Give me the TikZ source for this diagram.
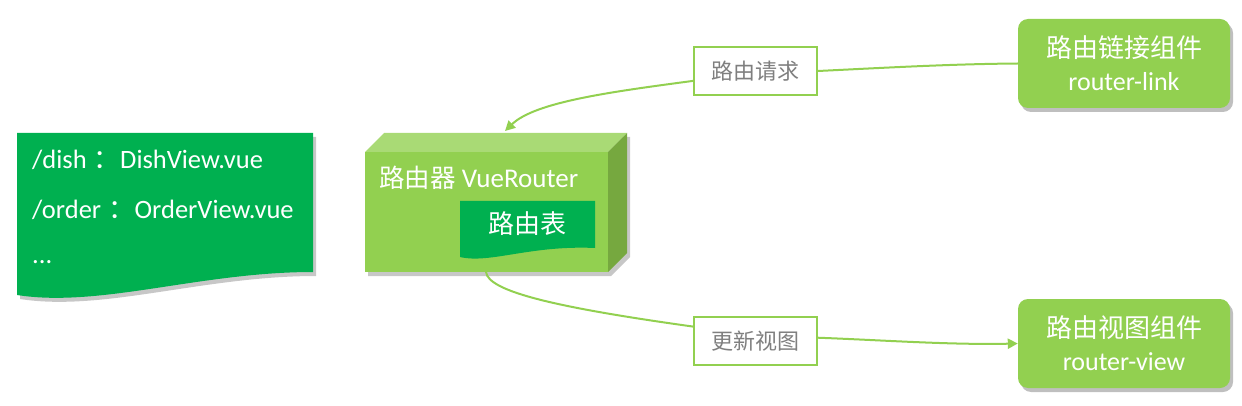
\documentclass[tikz,border=0pt]{standalone}
\usepackage{fontspec}
\setmainfont{Carlito}
\newfontfamily\cjk{Noto Sans CJK SC}
\usetikzlibrary{arrows.meta,shadows}
\definecolor{lg}{HTML}{92D050}
\definecolor{dg}{HTML}{00B050}
\definecolor{topg}{HTML}{A9DA75}
\definecolor{sideg}{HTML}{76A83F}
\definecolor{labgray}{HTML}{7F7F7F}
\tikzset{
  shadowfill/.style={fill=black,opacity=0.22},
  compbox/.style={fill=lg,rounded corners=10pt,minimum width=212pt,minimum height=89pt,
    text=white,align=center,font=\fontsize{26}{33}\selectfont,
    general shadow={fill=black,opacity=0.25,shadow xshift=3pt,shadow yshift=-4pt}},
  labelbox/.style={draw=lg,line width=2pt,fill=white,minimum width=123pt,minimum height=48pt,
    text=labgray,font=\cjk\fontsize{22}{24}\selectfont},
  conn/.style={draw=lg,line width=2pt},
  doctext/.style={anchor=west,text=white,font=\fontsize{26.5}{28}\selectfont,inner sep=0pt},
}
\begin{document}
\begin{tikzpicture}[x=1pt,y=-1pt]
\useasboundingbox (0,0) rectangle (1242,406);
% document shape (left)
\begin{scope}[shift={(3,4)}]
\fill[shadowfill] (17,133) -- (313,133) -- (313,272) .. controls (200,272) and (100,308) .. (17,295) -- cycle;
\end{scope}
\fill[dg] (17,133) -- (313,133) -- (313,272) .. controls (200,272) and (100,308) .. (17,295) -- cycle;
\node[doctext] (d1) at (32,160) {/dish\hspace{7pt}{\cjk ：}DishView.vue};
\node[doctext] (d2) at (32,210) {/order\hspace{7pt}{\cjk ：}OrderView.vue};
\node[doctext] (d3) at (32,262) {...};
% cube
\begin{scope}[shift={(3,4)}]
\fill[shadowfill] (365,152) -- (384,133) -- (627,133) -- (627,253) -- (608,272) -- (365,272) -- cycle;
\end{scope}
\fill[lg] (365,152) rectangle (608,272);
\fill[topg] (365,152) -- (384,133) -- (627,133) -- (608,152) -- cycle;
\fill[sideg] (608,152) -- (627,133) -- (627,253) -- (608,272) -- cycle;
\node[inner sep=0pt,minimum width=243pt,minimum height=120pt] (cube) at (486.5,212) {};
\coordinate (cubetop) at (505,131);
\coordinate (cubebot) at (486,272);
\node[anchor=west,text=white,font=\fontsize{27}{28}\selectfont,inner sep=0pt] (vr) at (379,178) {{\cjk\fontsize{25.5}{28}\selectfont 路由器} VueRouter};
% route table
\fill[dg] (460,257) -- (460,201) -- (595,201) -- (595,248) .. controls (530,245) and (490,264) .. (460,257) -- cycle;
\node[text=white,font=\cjk\fontsize{26}{28}\selectfont,inner sep=0pt] (rt) at (527,224) {路由表};
% components
\node[compbox] (rlink) at (1124,63.5) {{\cjk 路由链接组件}\\router-link};
\node[compbox] (rview) at (1124,343.5) {{\cjk 路由视图组件}\\router-view};
% labels
\node[labelbox] (req) at (755.5,71) {路由请求};
\node[labelbox] (upd) at (755.5,341) {更新视图};
% connectors
\draw[conn] (rlink.west) .. controls (950,64) and (880,68) .. (req.east);
\draw[conn,-{Triangle[length=10pt,width=10pt]}] (req.189) .. controls (610,92) and (535,102) .. (cubetop);
\draw[conn] (cubebot) .. controls (488,292) and (560,308) .. (upd.167);
\draw[conn,-{Triangle[length=10pt,width=10pt]}] (upd.3) .. controls (880,340) and (950,345) .. (rview.west);
\end{tikzpicture}
\end{document}
